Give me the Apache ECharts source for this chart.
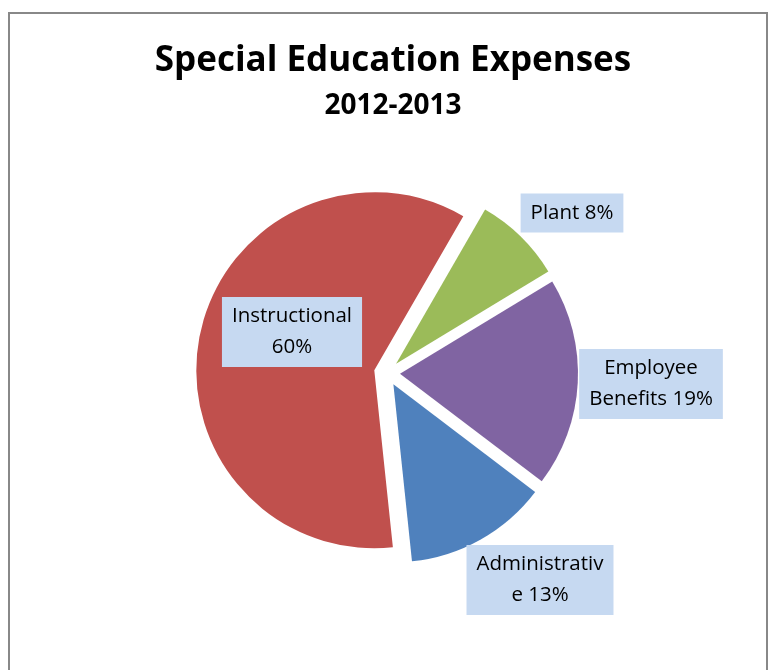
<!DOCTYPE html>
<html>
<head>
<meta charset="utf-8">
<script src="https://cdn.jsdelivr.net/npm/echarts@6/dist/echarts.min.js"></script>
<style>
  html, body { margin: 0; padding: 0; background: #ffffff; }
  #chart { width: 771px; height: 670px; }
</style>
</head>
<body>
<div id="chart"></div>
<script>
// Expense categories, in the clockwise order they are drawn
const categories = ['Administrative', 'Instructional', 'Plant', 'Employee Benefits'];
// Share of total special education expenses (%)
const shares = [13, 60, 8, 19];
// Label text as wrapped in the data labels
const labelTexts = ['Administrativ\ne 13%', 'Instructional\n60%', 'Plant 8%', 'Employee\nBenefits 19%'];
const sliceColors = ['#4F81BD', '#C0504D', '#9BBB59', '#8064A2'];

const FONT = '"Open Sans", sans-serif';

// Centre of each data label box, keyed by category
const labelSpots = {
  'Administrative': [540, 580],
  'Instructional': [292, 332],
  'Plant': [572, 213],
  'Employee Benefits': [651, 384]
};

const PIE_CENTER = [387, 373];
const PIE_RADIUS = 178;
const START_ANGLE = 90 - 127.2;

const chart = echarts.init(document.getElementById('chart'), null, { renderer: 'canvas' });

chart.setOption({
  animation: false,
  backgroundColor: '#ffffff',
  title: {
    text: 'Special Education Expenses',
    subtext: '2012-2013',
    left: 388,
    textAlign: 'center',
    top: 39,
    itemGap: 13,
    textStyle: { fontFamily: FONT, fontWeight: 'bold', fontSize: 35, color: '#000000' },
    subtextStyle: { fontFamily: FONT, fontWeight: 'bold', fontSize: 28, color: '#000000' }
  },
  graphic: [{
    type: 'rect',
    silent: true,
    shape: { x: 9, y: 13, width: 758, height: 720 },
    style: { fill: null, stroke: '#888888', lineWidth: 2 }
  }],
  series: [
    {
      // Exploded slices
      type: 'pie',
      center: PIE_CENTER,
      radius: PIE_RADIUS,
      startAngle: START_ANGLE,
      clockwise: true,
      selectedMode: 'multiple',
      selectedOffset: 13,
      emphasis: { disabled: true },
      itemStyle: { borderWidth: 0 },
      label: { show: false },
      labelLine: { show: false },
      data: categories.map((name, i) => ({
        name: name,
        value: shares[i],
        selected: true,
        itemStyle: { color: sliceColors[i] }
      }))
    },
    {
      // Data label boxes, laid over the same angles
      type: 'pie',
      center: PIE_CENTER,
      radius: PIE_RADIUS,
      startAngle: START_ANGLE,
      clockwise: true,
      silent: true,
      selectedMode: false,
      emphasis: { disabled: true },
      z: 5,
      itemStyle: { color: 'rgba(0,0,0,0)', borderWidth: 0 },
      labelLine: { show: false },
      label: {
        show: true,
        position: 'inside',
        fontFamily: FONT,
        fontSize: 20.5,
        lineHeight: 31,
        color: '#000000',
        backgroundColor: '#C6D9F1',
        padding: [4, 10, 4, 10],
        align: 'center',
        verticalAlign: 'middle',
        formatter: p => labelTexts[p.dataIndex]
      },
      labelLayout: function (p) {
        const spot = labelSpots[categories[p.dataIndex]];
        return { x: spot[0], y: spot[1], align: 'center', verticalAlign: 'middle' };
      },
      data: categories.map((name, i) => ({ name: name, value: shares[i] }))
    }
  ]
});
</script>
</body>
</html>
